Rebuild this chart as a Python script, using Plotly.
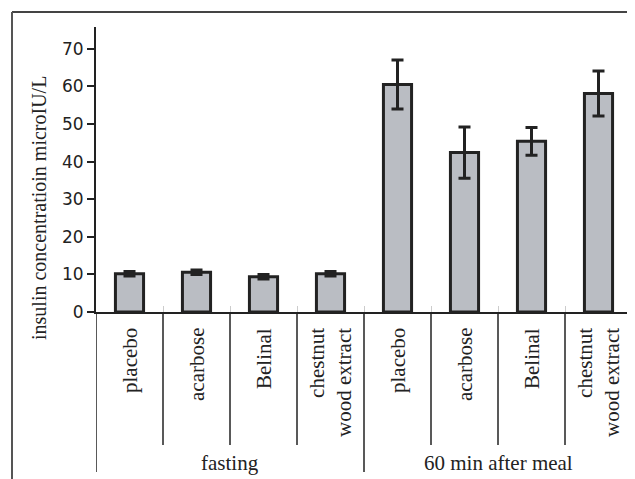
import plotly.graph_objects as go

categories = ["placebo", "acarbose", "Belinal", "chestnut<br>wood extract",
              "placebo", "acarbose", "Belinal", "chestnut<br>wood extract"]
groups = ["fasting", "60 min after meal"]
values = [10.2, 10.6, 9.4, 10.2, 60.5, 42.4, 45.4, 58.1]
errors = [0.6, 0.6, 0.6, 0.6, 6.5, 6.8, 3.7, 6.0]
y_ticks = [0, 10, 20, 30, 40, 50, 60, 70]
y_title = "insulin concentratioin microIU/L"

xs = list(range(len(values)))
serif = "Liberation Serif"
ink = "#222222"

# page body has an 8px margin; figure coordinates = screen - 8
OFF = 8
W, HT = 635 - OFF, 479 - OFF
L, R, T, B = 96 - OFF, 632 - OFF, 27 - OFF, 312 - OFF
PW, PH = R - L, B - T

fig = go.Figure()
fig.add_trace(go.Bar(
    x=xs, y=values, width=0.42,
    marker=dict(color="#babdc3", line=dict(color=ink, width=3)),
    error_y=dict(type="data", array=errors, visible=True,
                 color=ink, thickness=3, width=6),
    showlegend=False,
))

annotations = []
for i, c in enumerate(categories):
    annotations.append(dict(
        x=i, y=0, xref="x", yref="paper", text=c, showarrow=False,
        textangle=-90, xanchor="center", yanchor="top", yshift=-14,
        align="right", font=dict(family=serif, size=21, color=ink)))
for g, gx in zip(groups, [1.5, 5.5]):
    annotations.append(dict(
        x=gx, y=0, xref="x", yref="paper", text=g, showarrow=False,
        xanchor="center", yanchor="middle", yshift=-(463 - 312),
        font=dict(family=serif, size=21, color=ink)))
annotations.append(dict(
    x=0, y=(312 - 208) / PH, xref="paper", yref="paper", text=y_title,
    showarrow=False, textangle=-90, xanchor="center", yanchor="middle",
    xshift=-57, font=dict(family=serif, size=20, color=ink)))

shapes = []
for i in range(len(values) - 1):
    if i == 3:
        continue
    shapes.append(dict(type="line", xref="x", yref="paper",
                       x0=i + 0.5, x1=i + 0.5, y0=0, y1=-(445 - 312) / PH,
                       line=dict(color=ink, width=1.5)))
for gx in [-0.5, 3.5, 7.45]:
    shapes.append(dict(type="line", xref="x", yref="paper",
                       x0=gx, x1=gx, y0=0, y1=-(472 - 312) / PH,
                       line=dict(color=ink, width=1.5)))
# outer frame (top and left), screen px 12
fx = -(96 - 12) / PW
fy = (312 - 12) / PH
shapes.append(dict(type="line", xref="paper", yref="paper",
                   x0=fx, x1=(W - L) / PW, y0=fy, y1=fy,
                   line=dict(color="#444444", width=2)))
shapes.append(dict(type="line", xref="paper", yref="paper",
                   x0=fx, x1=fx, y0=fy, y1=-(HT - (B)) / PH,
                   line=dict(color="#555555", width=2)))

fig.update_layout(
    width=W, height=HT,
    margin=dict(l=L, r=W - R, t=T, b=HT - B, pad=0),
    paper_bgcolor="white", plot_bgcolor="white",
    annotations=annotations, shapes=shapes,
    xaxis=dict(range=[-0.5, 7.5], showgrid=False, zeroline=False,
               showline=True, linecolor=ink, linewidth=1.5,
               tickvals=[i + 0.5 for i in range(-1, 8)],
               ticks="inside", ticklen=6, tickcolor="#cccccc",
               showticklabels=False),
    yaxis=dict(range=[0, 75.8], tickvals=y_ticks, showgrid=False,
               zeroline=False, showline=True, linecolor=ink, linewidth=2,
               ticks="outside", ticklen=7, tickwidth=1.5, tickcolor=ink,
               tickfont=dict(family="DejaVu Sans", size=17, color=ink)),
)

fig.write_html("out.html")
